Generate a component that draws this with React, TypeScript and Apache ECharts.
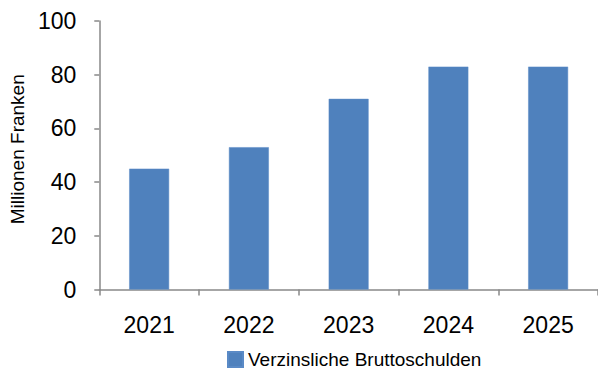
import React, { useEffect, useRef } from "react";
import * as echarts from "echarts";

const categories = ["2021", "2022", "2023", "2024", "2025"];
const seriesName = "Verzinsliche Bruttoschulden";
const values = [45, 53, 71, 83, 83];
const yAxisTitle = "Millionen Franken";

const FONT = "'Liberation Sans', Arial, sans-serif";
const AXIS_COLOR = "#898989";

export default function App() {
  const ref = useRef<HTMLDivElement>(null);
  useEffect(() => {
    if (!ref.current) return;
    const chart = echarts.init(ref.current, undefined, { renderer: "svg" });
    chart.setOption({
      animation: false,
      backgroundColor: "#ffffff",
      textStyle: { fontFamily: FONT },
      grid: { left: 94, right: 0, top: 21, bottom: 81.5, containLabel: false },
      legend: {
        data: [seriesName],
        left: 227,
        top: 350,
        padding: 0,
        itemWidth: 15,
        itemHeight: 15,
        icon: "rect",
        textStyle: { fontFamily: FONT, fontSize: 19, color: "#000" },
      },
      xAxis: {
        type: "category",
        data: categories,
        axisLine: { lineStyle: { color: AXIS_COLOR, width: 1.5 } },
        axisTick: { show: true, length: 6, alignWithLabel: false, lineStyle: { color: AXIS_COLOR, width: 1.5 } },
        axisLabel: { fontFamily: FONT, fontSize: 23, color: "#000", margin: 24 },
        splitLine: { show: false },
      },
      yAxis: {
        type: "value",
        min: 0,
        max: 100,
        interval: 20,
        name: yAxisTitle,
        nameLocation: "middle",
        nameGap: 66,
        nameTextStyle: { fontFamily: FONT, fontSize: 19, color: "#000", padding: [0, 0, 0, 12] },
        axisLine: { show: true, lineStyle: { color: AXIS_COLOR, width: 1.5 } },
        axisTick: { show: true, length: 5, lineStyle: { color: AXIS_COLOR, width: 1.5 } },
        axisLabel: { fontFamily: FONT, fontSize: 23, color: "#000", margin: 23 },
        splitLine: { show: false },
      },
      series: [
        {
          name: seriesName,
          type: "bar",
          data: values,
          barWidth: "40%",
          itemStyle: { color: "#4F81BD", borderColor: "#5A8AC6", borderWidth: 0.5 },
        },
      ],
    });
    return () => chart.dispose();
  }, []);
  return (
    <div
      ref={ref}
      style={{ position: "absolute", left: 0, top: 0, width: 598, height: 371 }}
    />
  );
}
